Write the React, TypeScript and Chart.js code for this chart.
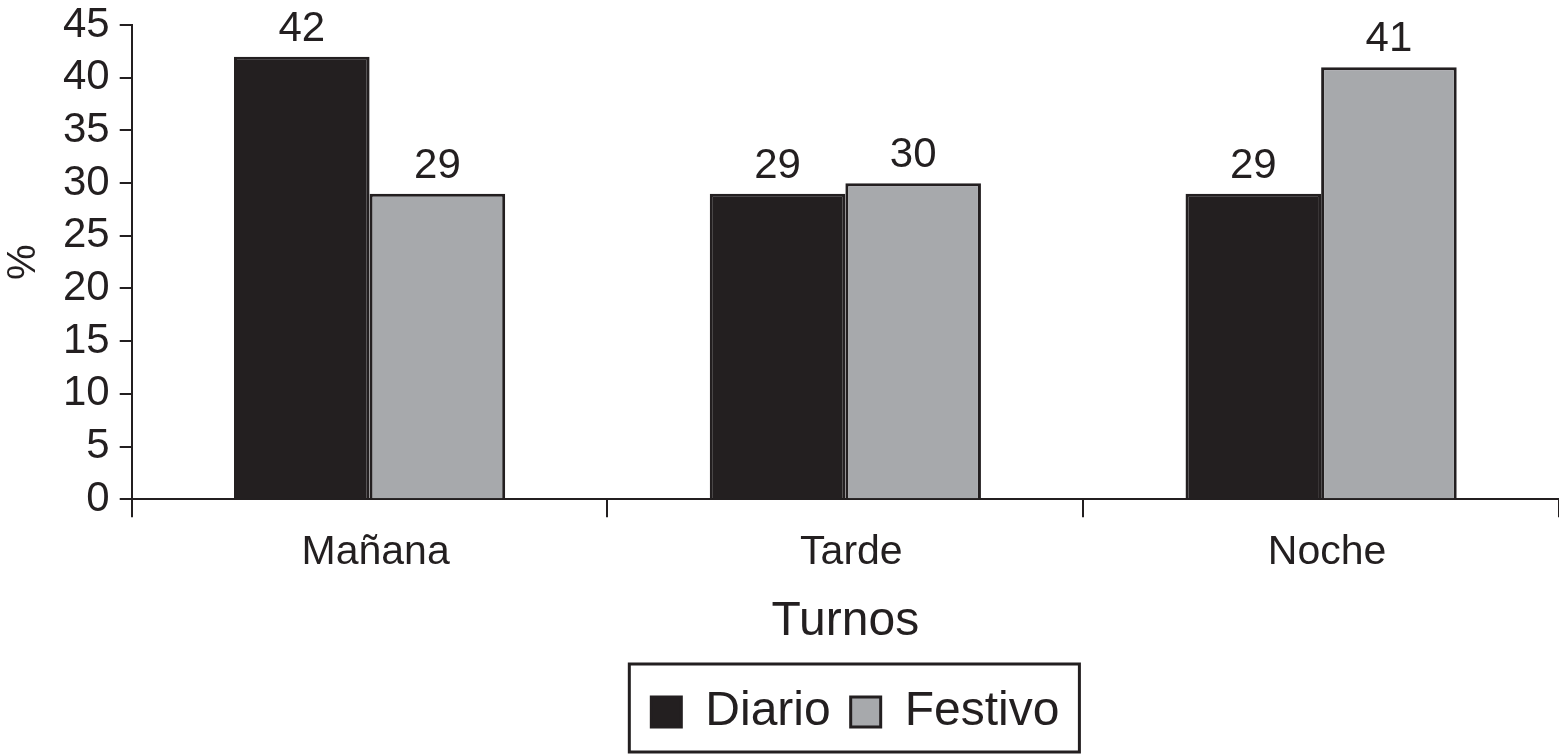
import { useEffect, useRef } from "react";
import { Chart, registerables } from "chart.js";

Chart.register(...registerables);

const categories = ["Mañana", "Tarde", "Noche"];
const diario = [42, 29, 29];
const festivo = [29, 30, 41];
const seriesNames = ["Diario", "Festivo"];

const ink = "#231f20";
const gray = "#a7a9ac";
const font = "'Liberation Sans', Arial, Helvetica, sans-serif";

// numbers above each bar
const valueLabels = {
  id: "valueLabels",
  afterDatasetsDraw(chart: Chart) {
    const ctx = chart.ctx;
    ctx.save();
    ctx.fillStyle = ink;
    ctx.font = `42px ${font}`;
    ctx.textAlign = "center";
    ctx.textBaseline = "alphabetic";
    chart.data.datasets.forEach((ds, i) => {
      const meta = chart.getDatasetMeta(i);
      meta.data.forEach((bar: any, j) => {
        ctx.fillText(String(ds.data[j]), bar.x, bar.y - 16);
      });
    });
    ctx.restore();
  }
};

// the legend sits under the plot area, not under the whole canvas
const legendShift = {
  id: "legendShift",
  afterLayout(chart: Chart) {
    const legend: any = chart.legend;
    if (!legend) return;
    const dx = (chart.chartArea.left + chart.chartArea.right) / 2 - (legend.left + legend.right) / 2 + 10;
    legend.left += dx;
    legend.right += dx;
  }
};

// frame round the legend
const legendFrame = {
  id: "legendFrame",
  afterDraw(chart: Chart) {
    const legend: any = chart.legend;
    const boxes = legend?.legendHitBoxes;
    if (!boxes || !boxes.length) return;
    const left = Math.min(...boxes.map((b: any) => b.left)) - 22;
    const right = Math.max(...boxes.map((b: any) => b.left + b.width)) + 20;
    const top = Math.min(...boxes.map((b: any) => b.top)) - 24;
    const bottom = Math.max(...boxes.map((b: any) => b.top + b.height)) + 16;
    const ctx = chart.ctx;
    ctx.save();
    ctx.strokeStyle = ink;
    ctx.lineWidth = 3;
    ctx.strokeRect(left, top, right - left, bottom - top);
    ctx.restore();
  }
};

export default function App() {
  const canvasRef = useRef<HTMLCanvasElement | null>(null);

  useEffect(() => {
    const canvas = canvasRef.current;
    if (!canvas) return;

    const chart = new Chart(canvas, {
      type: "bar",
      data: {
        labels: categories,
        datasets: [
          {
            label: seriesNames[0],
            data: diario,
            backgroundColor: ink,
            borderColor: ink,
            borderWidth: 3
          },
          {
            label: seriesNames[1],
            data: festivo,
            backgroundColor: gray,
            borderColor: ink,
            borderWidth: 3
          }
        ]
      },
      options: {
        animation: false,
        responsive: true,
        maintainAspectRatio: false,
        layout: { padding: { top: 7, right: 0, bottom: 10, left: 0 } },
        datasets: { bar: { categoryPercentage: 0.57, barPercentage: 1 } },
        plugins: {
          tooltip: { enabled: false },
          legend: {
            position: "bottom",
            labels: {
              color: ink,
              font: { family: font, size: 48 },
              boxWidth: 30,
              boxHeight: 30,
              padding: 20
            }
          }
        },
        scales: {
          x: {
            grid: {
              display: true,
              offset: true,
              drawOnChartArea: false,
              tickLength: 18,
              color: ink,
              lineWidth: 2
            },
            border: { display: true, color: ink, width: 2 },
            ticks: {
              color: ink,
              font: { family: font, size: 41 },
              padding: 11,
              labelOffset: 6
            },
            title: {
              display: true,
              text: "Turnos",
              color: ink,
              font: { family: font, size: 48 },
              padding: { top: 5, bottom: 17 }
            }
          },
          y: {
            min: 0,
            max: 45,
            ticks: {
              stepSize: 5,
              autoSkip: false,
              color: ink,
              font: { family: font, size: 42, lineHeight: 0.72 },
              padding: 10
            },
            grid: {
              display: true,
              drawOnChartArea: false,
              tickLength: 12,
              color: ink,
              lineWidth: 2
            },
            border: { display: true, color: ink, width: 2 },
            title: {
              display: true,
              text: "%",
              color: ink,
              font: { family: font, size: 40 },
              padding: { top: 0, bottom: 5 }
            }
          }
        }
      },
      plugins: [valueLabels, legendShift, legendFrame]
    });

    return () => chart.destroy();
  }, []);

  return (
    <div style={{ position: "absolute", left: 0, top: 0, width: 1559, height: 756, background: "#fff" }}>
      <canvas ref={canvasRef} />
    </div>
  );
}
